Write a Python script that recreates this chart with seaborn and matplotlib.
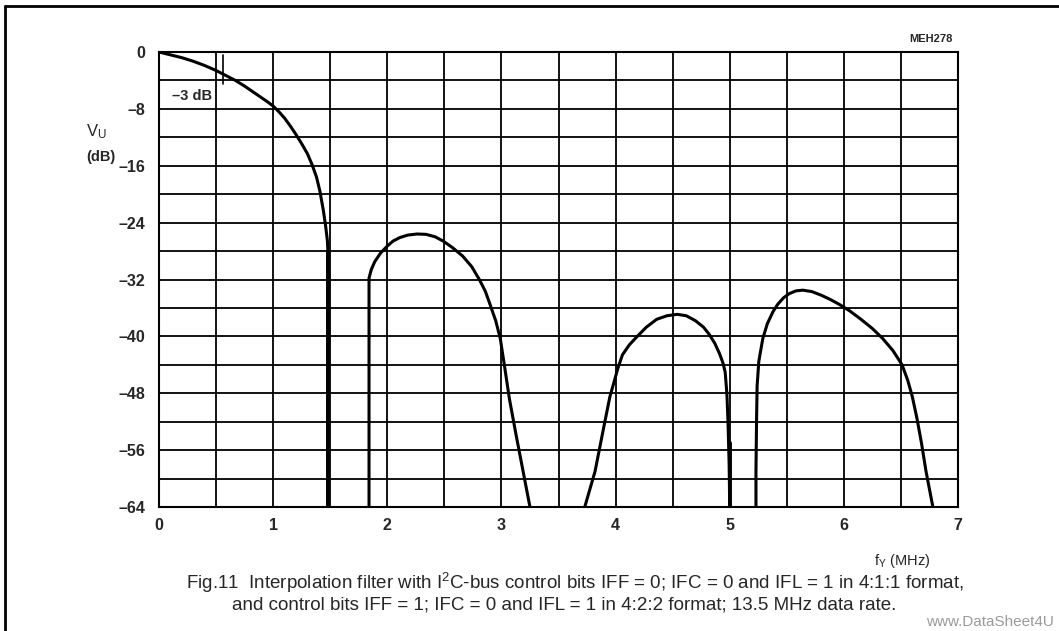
import numpy as np
import pandas as pd
import matplotlib
matplotlib.use("Agg")
import matplotlib.pyplot as plt
import seaborn as sns
from matplotlib.lines import Line2D

# ---- data ----
c1_f = [0.0, 0.05, 0.1, 0.2, 0.3, 0.4, 0.5, 0.56, 0.67, 0.75, 0.85, 0.95, 1.0, 1.05, 1.1,
        1.15, 1.2, 1.25, 1.3, 1.34, 1.38, 1.41, 1.44, 1.46, 1.475, 1.48, 1.48]
c1_db = [0.0, -0.2, -0.4, -0.8, -1.3, -1.9, -2.6, -3.1, -4.0, -4.8, -5.9, -7.0, -7.6, -8.4, -9.3,
         -10.4, -11.6, -12.9, -14.3, -15.8, -17.6, -19.6, -22.3, -24.5, -26.5, -28.0, -64.0]

c2_f = [1.84, 1.84, 1.86, 1.89, 1.94, 2.0, 2.05, 2.11, 2.18, 2.26, 2.34, 2.42, 2.49, 2.57,
        2.66, 2.74, 2.81, 2.86, 2.9, 2.95, 2.99, 3.03, 3.07, 3.13, 3.19, 3.25]
c2_db = [-64.0, -31.8, -30.6, -29.5, -28.3, -27.3, -26.6, -26.1, -25.75, -25.6, -25.65, -26.0,
         -26.6, -27.5, -28.7, -30.2, -32.1, -33.7, -35.5, -37.8, -40.3, -44.5, -48.8, -54.0,
         -59.0, -64.0]

c3_f = [3.73, 3.82, 3.9, 3.95, 3.98, 4.02, 4.06, 4.12, 4.19, 4.27, 4.36, 4.45, 4.54, 4.62,
        4.7, 4.77, 4.82, 4.87, 4.91, 4.94, 4.96, 4.975, 4.985, 4.995, 5.0]
c3_db = [-64.0, -59.0, -52.5, -48.5, -46.8, -44.5, -42.6, -41.2, -40.0, -38.7, -37.6, -37.1,
         -36.9, -37.1, -37.8, -38.7, -39.7, -41.0, -42.4, -43.7, -45.0, -48.0, -52.0, -58.0, -64.0]

c4_f = [5.23, 5.23, 5.235, 5.24, 5.255, 5.29, 5.33, 5.38, 5.42, 5.47, 5.52, 5.58, 5.64, 5.72,
        5.8, 5.88, 5.96, 6.05, 6.15, 6.25, 6.34, 6.43, 6.51, 6.56, 6.6, 6.64, 6.68, 6.72, 6.78]
c4_db = [-64.0, -59.0, -52.0, -47.0, -43.5, -40.3, -38.2, -36.5, -35.5, -34.6, -34.0, -33.6,
         -33.5, -33.7, -34.2, -34.8, -35.5, -36.4, -37.6, -38.9, -40.3, -42.0, -44.0, -46.2,
         -48.5, -51.5, -55.0, -59.0, -64.0]

x_ticks = [0, 1, 2, 3, 4, 5, 6, 7]
x_tick_labels = ["0", "1", "2", "3", "4", "5", "6", "7"]
y_ticks = [0, -8, -16, -24, -32, -40, -48, -56, -64]
y_tick_labels = ["0", "\u20138", "\u201316", "\u201324", "\u201332", "\u201340", "\u201348", "\u201356", "\u201364"]
minus3_f = 0.56

caption1 = "Fig.11  Interpolation filter with I$^{2}$C-bus control bits IFF = 0; IFC = 0 and IFL = 1 in 4:1:1 format,"
caption2 = "and control bits IFF = 1; IFC = 0 and IFL = 1 in 4:2:2 format; 13.5 MHz data rate."

# ---- style ----
sns.set_style("white")
plt.rcParams["font.family"] = ["Liberation Sans", "DejaVu Sans"]
plt.rcParams["mathtext.fontset"] = "custom"
plt.rcParams["mathtext.rm"] = "Liberation Sans"
plt.rcParams["mathtext.it"] = "Liberation Sans"

W, H = 1059, 631
fig = plt.figure(figsize=(W / 100, H / 100), dpi=100)

def fx(px):
    return px / W

def fy(py):
    return 1 - py / H

ax_l, ax_r, ax_t, ax_b = 159, 958, 52, 507
ax = fig.add_axes([fx(ax_l), fy(ax_b), (ax_r - ax_l) / W, (ax_b - ax_t) / H])

curves = [(c1_f, c1_db), (c2_f, c2_db), (c3_f, c3_db), (c4_f, c4_db)]
for f, d in curves:
    df = pd.DataFrame({"f": f, "db": d})
    sns.lineplot(data=df, x="f", y="db", ax=ax, sort=False, estimator=None,
                 color="black", linewidth=2.2, solid_joinstyle="round")

# thicker vertical drops
for xv, ytop in [(1.48, -28.0), (5.0, -55.0)]:
    sns.lineplot(x=[xv, xv], y=[ytop, -64], ax=ax, sort=False, estimator=None,
                 color="black", linewidth=2.8)

# -3 dB marker
sns.lineplot(x=[minus3_f, minus3_f], y=[-0.4, -4.5], ax=ax, sort=False,
             estimator=None, color="black", linewidth=1.2)

ax.set_xlim(0, 7)
ax.set_ylim(-64, 0)
ax.set_xticks(x_ticks)
ax.set_xticklabels(x_tick_labels)
ax.set_yticks(y_ticks)
ax.set_yticklabels(y_tick_labels)
ax.set_xticks(np.arange(0, 7.01, 0.5), minor=True)
ax.set_yticks(np.arange(-64, 0.01, 4), minor=True)
ax.grid(True, which="both", color="black", linewidth=1.3)
ax.tick_params(axis="both", which="both", length=0, labelsize=11.5)
ax.tick_params(axis="x", pad=8)
ax.tick_params(axis="y", pad=10)
for lbl in ax.get_xticklabels() + ax.get_yticklabels():
    lbl.set_fontweight("bold")
for s in ax.spines.values():
    s.set_color("black")
    s.set_linewidth(1.5)
ax.set_xlabel("")
ax.set_ylabel("")

# texts
fig.text(fx(192), fy(96), "\u20133 dB", ha="center", va="center", fontsize=10.5, fontweight="bold")
fig.text(fx(96), fy(132), "V$_\\mathregular{U}$", ha="center", va="center", fontsize=12)
fig.text(fx(101), fy(157), "(dB)", ha="center", va="center", fontsize=10.5, fontweight="bold")
fig.text(fx(902), fy(561), "f$_\\mathregular{Y}$ (MHz)", ha="center", va="center", fontsize=10.5)
fig.text(fx(931), fy(39), "MEH278", ha="center", va="center", fontsize=8, fontweight="bold")

fig.text(fx(186), fy(583), caption1, ha="left", va="center", fontsize=13.5)
fig.text(fx(232), fy(605), caption2, ha="left", va="center", fontsize=13.5)

fig.text(fx(1054), fy(622), "www.DataSheet4U", ha="right", va="center",
         fontsize=11, color="#9a9a9a")

# outer frame
fig.add_artist(Line2D([fx(5), fx(5)], [fy(6), fy(640)], color="black", linewidth=2.0))
fig.add_artist(Line2D([fx(5), fx(1070)], [fy(6), fy(6)], color="black", linewidth=2.0))

fig.savefig("out.png", dpi=100)
